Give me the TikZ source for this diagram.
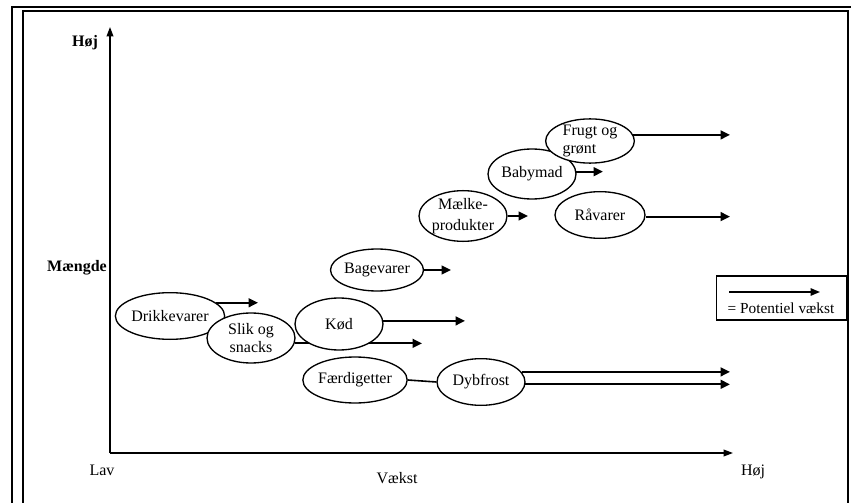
\documentclass[tikz,border=0pt]{standalone}
\usepackage{fontspec}
\setmainfont{Liberation Serif}
\usetikzlibrary{shapes.geometric, arrows.meta, backgrounds}

\begin{document}
\begin{tikzpicture}
[x=0.75pt, y=-0.75pt,
 every node/.style={font=\fontsize{12}{13}\selectfont},
 segment/.style={ellipse, draw, fill=white, line width=1pt, minimum width=66pt,
   minimum height=35pt, inner sep=0pt, align=center},
 growth/.style={line width=1.6pt, -{Triangle[length=7pt, width=6.5pt]}},
 axis/.style={line width=1.1pt, -{Triangle[length=7pt, width=5pt]}}]
\useasboundingbox (0,0) rectangle (851,503);

% frame
\draw[line width=1pt] (12,503) -- (12,7) -- (851,7);
\draw[line width=1pt] (23,503) -- (23,11) -- (848,11) -- (848,503);

% axes
\coordinate (origin) at (110,453);
\coordinate (y top) at (110,27);
\coordinate (x end) at (733,453);
\draw[axis] (origin) -- (y top);
\draw[axis] (origin) -- (x end);
\node[font=\fontsize{12}{13}\selectfont\bfseries] (y high) at (85,43) {Høj};
\node[font=\fontsize{12}{13}\selectfont\bfseries] (y label) at (77,268) {Mængde};
\node (x low) at (102,470) {Lav};
\node (x label) at (397,478) {Vækst};
\node (x high) at (753,472) {Høj};

% segments
\node[segment, minimum width=66.5pt] (drikkevarer) at (170,316) {Drikkevarer};
\node[segment, minimum height=37.5pt] (slik) at (251,338) {Slik og\\snacks};
\node[segment, minimum height=39pt] (koed) at (339,324) {Kød};
\node[segment, minimum height=34.5pt] (faerdig) at (355,380) {Færdigetter};
\node[segment] (dybfrost) at (481,382) {Dybfrost};
\node[segment, minimum height=31.5pt] (bagevarer) at (377,270) {Bagevarer};
\node[segment, minimum width=65pt, minimum height=35pt,
  font=\fontsize{12}{16}\selectfont] (maelk) at (463,216) {Mælke-\\produkter};
\node[segment, minimum height=37.5pt] (babymad) at (532,174) {Babymad};
\node[segment, minimum width=66.5pt, minimum height=33pt, align=left] (frugt) at (590,141) {Frugt og\\grønt};
\node[segment, minimum width=67.5pt] (raavarer) at (600,215) {Råvarer};

% arrow ends
\coordinate (drikkevarer end) at (258,305);
\coordinate (koed end) at (465,321);
\coordinate (koed low end) at (422,343);
\coordinate (bagevarer end) at (451,269);
\coordinate (maelk end) at (528,217);
\coordinate (babymad end) at (603,172);
\coordinate (frugt end) at (730,135);
\coordinate (raavarer end) at (730,217);
\coordinate (dybfrost end) at (730,372);
\coordinate (dybfrost low end) at (730,384);

\foreach \seg/\ang in {drikkevarer/16, koed/4, bagevarer/0, maelk/0,
  babymad/3, frugt/8, raavarer/-2, dybfrost/14}{
	\draw[growth] (\seg.\ang) -- (\seg.\ang -| \seg\space end);
}
\draw[growth] (dybfrost.-3) -- (dybfrost.-3 -| dybfrost low end);
\draw[line width=1.2pt] (faerdig.east) -- (dybfrost.west);
\begin{pgfonlayer}{background}
\draw[growth] (slik.-7) -- (slik.-7 -| koed low end);
\end{pgfonlayer}

% legend
\node[draw, line width=0.8pt, minimum width=98pt, minimum height=33pt] (legend) at (781.5,298) {};
\coordinate (legend start) at (729,292);
\coordinate (legend end) at (820,292);
\draw[line width=1.2pt, -{Triangle[length=7pt, width=5.5pt]}] (legend start) -- (legend end);
\node[font=\fontsize{11.5}{13}\selectfont] (legend text) at (781,308) {= Potentiel vækst};
\end{tikzpicture}
\end{document}
